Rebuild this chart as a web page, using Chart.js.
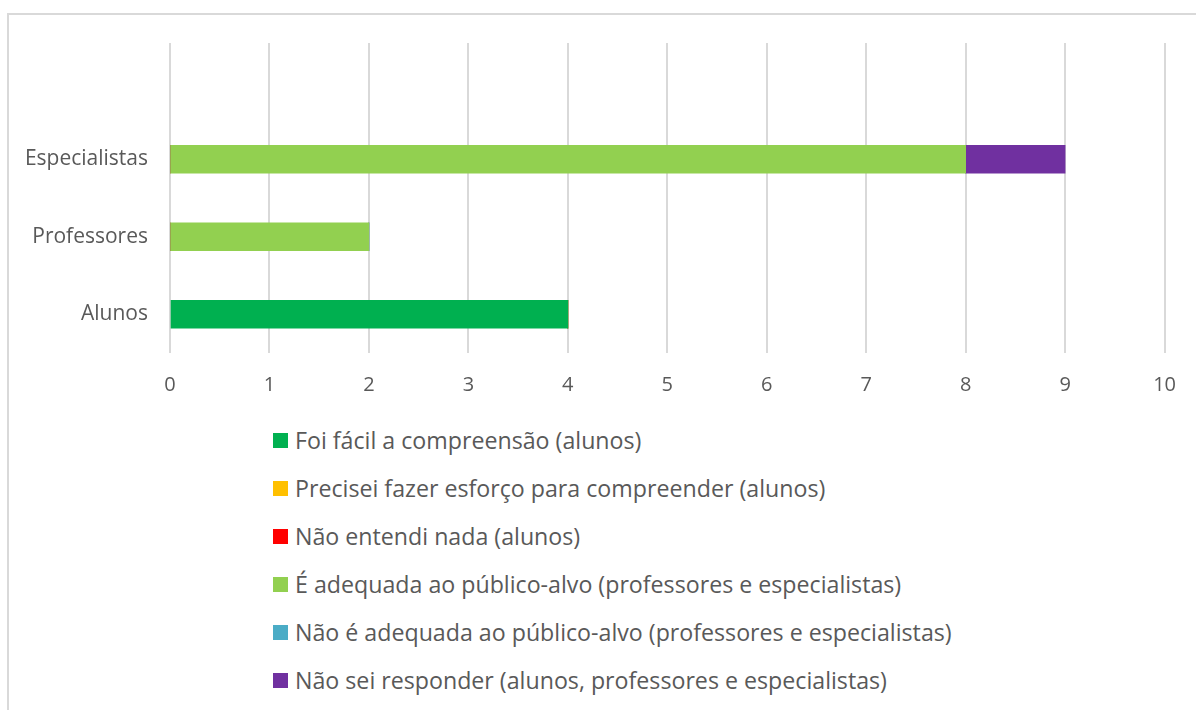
<!DOCTYPE html>
<html lang="pt">
<head>
<meta charset="utf-8">
<script src="https://cdn.jsdelivr.net/npm/chart.js@4"></script>
<style>
  html, body { margin: 0; padding: 0; background: #fff; }
  body { width: 1196px; height: 710px; position: relative; overflow: hidden; font-family: "Open Sans", sans-serif; }
  #frame { position: absolute; left: 7px; top: 13px; width: 1300px; height: 800px; border: 2px solid #d9d9d9; box-sizing: border-box; }
  #chart { position: absolute; left: 0; top: 0; }
  #legend { position: absolute; left: 273px; top: 416px; color: #595959; font-size: 23.2px; }
  .item { height: 48px; display: flex; align-items: center; white-space: nowrap; }
  .box { width: 15px; height: 15px; margin-right: 7px; flex: none; }
</style>
</head>
<body>
<div id="frame"></div>
<canvas id="chart" width="1196" height="410"></canvas>
<div id="legend"></div>
<script>
const categories = ['', 'Especialistas', 'Professores', 'Alunos'];
const xTicks = [0, 1, 2, 3, 4, 5, 6, 7, 8, 9, 10];

const facil       = [null, 0, 0, 4];
const esforco     = [null, 0, 0, 0];
const nada        = [null, 0, 0, 0];
const adequada    = [null, 8, 2, 0];
const naoAdequada = [null, 0, 0, 0];
const naoSei      = [null, 1, 0, 0];

const series = [
  { label: 'Foi fácil a compreensão (alunos)', data: facil, color: '#00b050' },
  { label: 'Precisei fazer esforço para compreender (alunos)', data: esforco, color: '#ffc000' },
  { label: 'Não entendi nada (alunos)', data: nada, color: '#ff0000' },
  { label: 'É adequada ao público-alvo (professores e especialistas)', data: adequada, color: '#92d050' },
  { label: 'Não é adequada ao público-alvo (professores e especialistas)', data: naoAdequada, color: '#4bacc6' },
  { label: 'Não sei responder (alunos, professores e especialistas)', data: naoSei, color: '#7030a0' },
];

const PLOT_LEFT = 170, PLOT_BOTTOM = 353, CANVAS_H = 410;
const tickFont = { family: '"Open Sans", sans-serif', size: 20 };
const catFont = { family: '"Open Sans", sans-serif', size: 21 };

const chart = new Chart(document.getElementById('chart'), {
  type: 'bar',
  data: {
    labels: categories,
    datasets: series.map(s => ({
      label: s.label, data: s.data, backgroundColor: s.color,
      borderWidth: 0, barThickness: 28,
    })),
  },
  options: {
    indexAxis: 'y',
    responsive: false,
    animation: false,
    devicePixelRatio: 1,
    layout: { padding: { top: 43, right: 30, left: 0, bottom: 0 } },
    plugins: { legend: { display: false }, tooltip: { enabled: false } },
    scales: {
      x: {
        stacked: true, min: 0, max: 10,
        afterBuildTicks: (s) => { s.ticks = xTicks.map(v => ({ value: v })); },
        afterFit: (s) => { s.height = CANVAS_H - PLOT_BOTTOM; },
        grid: { color: '#d9d9d9', lineWidth: 2, drawTicks: false },
        border: { display: false },
        ticks: { color: '#595959', font: tickFont, padding: 20 },
      },
      y: {
        stacked: true,
        afterFit: (s) => { s.width = PLOT_LEFT; },
        grid: { display: false, drawTicks: false },
        border: { display: false },
        ticks: { color: '#595959', font: catFont, padding: 22 },
      },
    },
  },
});

// legend: one entry per row
const legend = document.getElementById('legend');
chart.data.datasets.forEach(ds => {
  const row = document.createElement('div');
  row.className = 'item';
  row.innerHTML = `<span class="box" style="background:${ds.backgroundColor}"></span><span>${ds.label}</span>`;
  legend.appendChild(row);
});
</script>
</body>
</html>
